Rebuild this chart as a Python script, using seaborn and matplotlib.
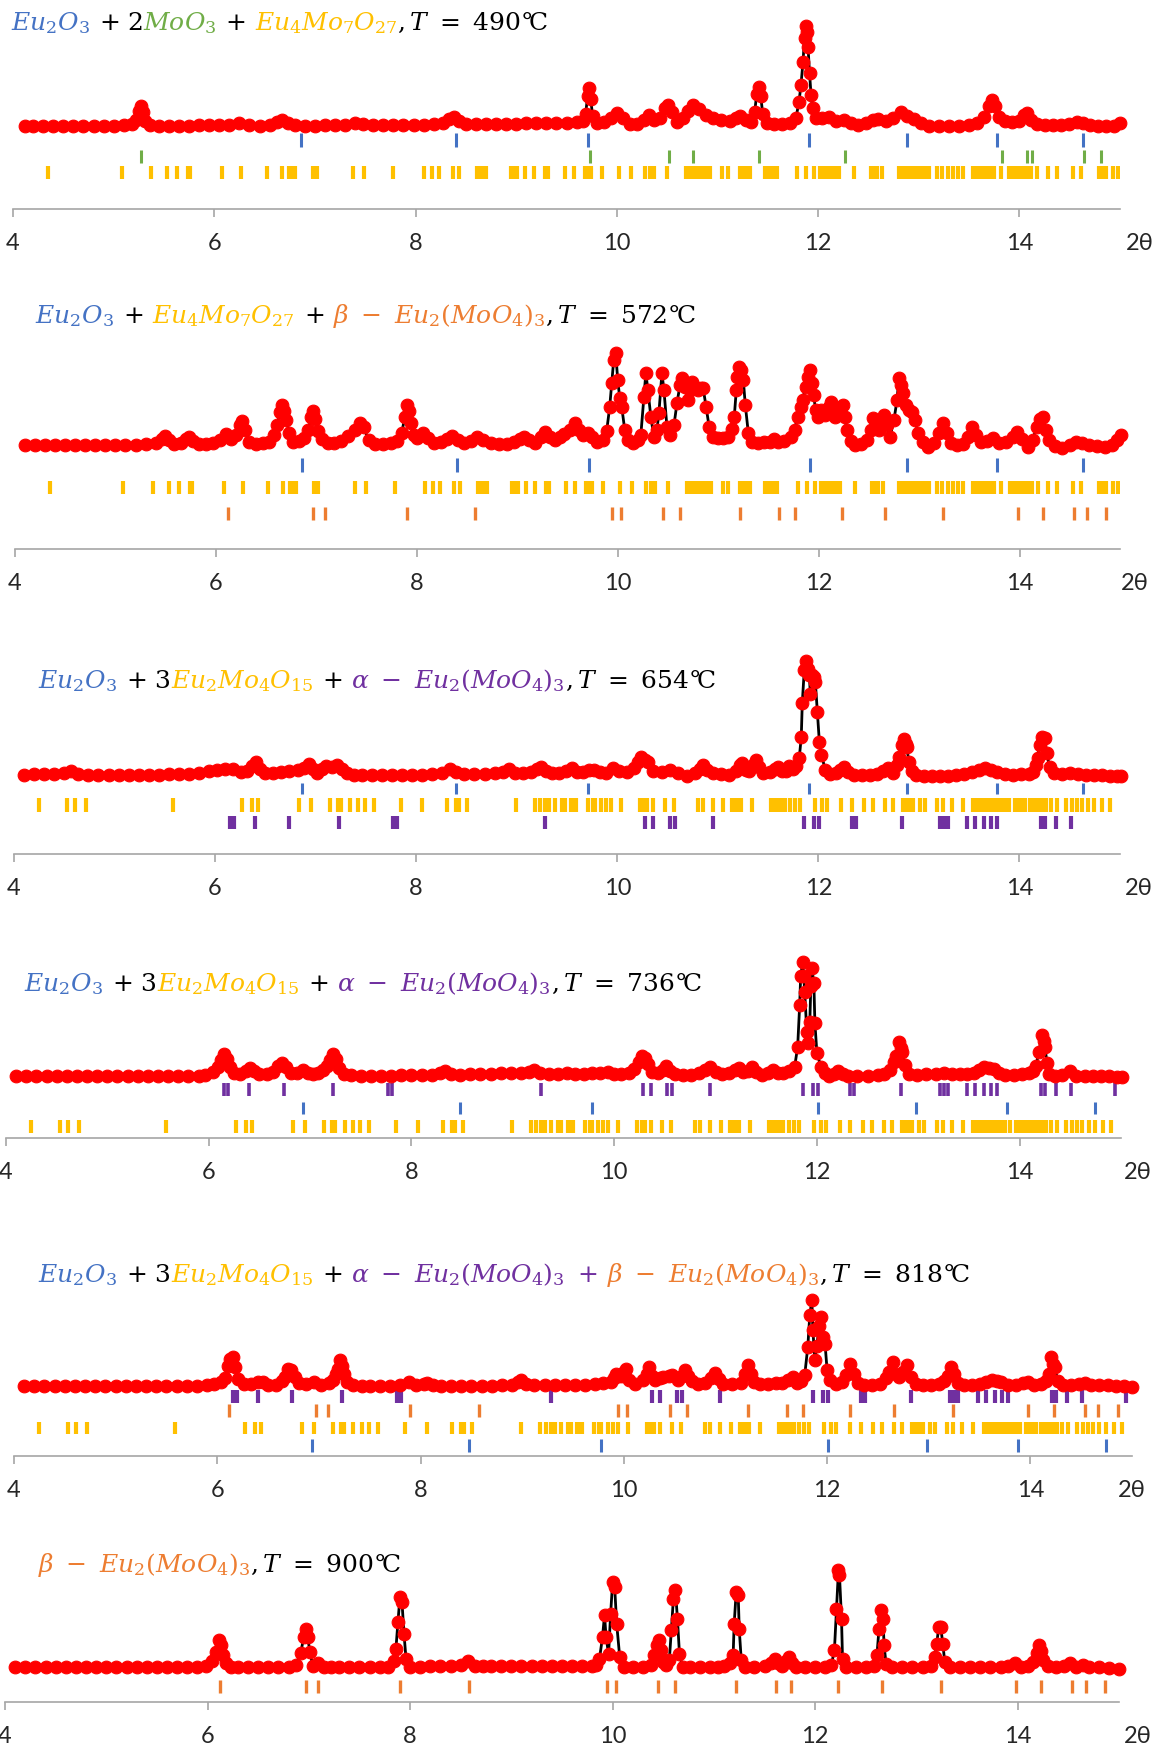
import numpy as np
import matplotlib
matplotlib.use("Agg")
import matplotlib.pyplot as plt
import seaborn as sns

# %% data: XRD scans (2theta, intensity in px above baseline)
scan_490 = [
    (4.12, 0), (4.2, 0), (4.3, 0), (4.4, 0), (4.5, 0), (4.6, 0), (4.7, 0), (4.8, 0), (4.9, 0.5), (5.0, 0.5),
    (5.1, 1), (5.18, 2), (5.22, 6), (5.25, 15), (5.27, 20), (5.29, 14), (5.31, 5), (5.36, 1), (5.45, 0),
    (5.55, 0), (5.65, 0.5), (5.75, 0.5), (5.85, 1), (5.95, 1), (6.05, 1), (6.15, 1.5), (6.25, 3), (6.35, 1),
    (6.45, 0), (6.55, 1), (6.62, 4), (6.67, 6), (6.73, 3), (6.8, 1), (6.9, 0.5), (7.0, 0.5), (7.1, 1),
    (7.2, 1), (7.3, 1.5), (7.4, 3), (7.48, 2), (7.58, 1), (7.68, 1), (7.78, 1), (7.88, 1), (7.98, 1.5),
    (8.08, 1.5), (8.18, 2), (8.27, 3), (8.33, 7), (8.38, 9), (8.43, 5), (8.5, 2), (8.6, 2), (8.7, 2),
    (8.8, 2), (8.9, 2), (9.0, 2.5), (9.1, 3), (9.2, 3), (9.3, 3), (9.4, 3.5), (9.5, 3.5), (9.6, 4),
    (9.66, 5), (9.69, 12), (9.71, 30), (9.725, 38), (9.74, 27), (9.76, 10), (9.8, 3), (9.87, 4), (9.94, 8),
    (10.0, 13), (10.06, 8), (10.13, 2), (10.2, 2), (10.27, 6), (10.32, 11), (10.37, 6), (10.43, 8),
    (10.48, 18), (10.51, 21), (10.55, 14), (10.6, 4), (10.66, 8), (10.71, 15), (10.76, 21), (10.82, 17),
    (10.89, 11), (10.96, 8), (11.04, 6), (11.12, 5), (11.18, 8), (11.22, 10), (11.28, 6), (11.33, 4),
    (11.37, 14), (11.39, 32), (11.41, 39), (11.43, 30), (11.45, 12), (11.49, 3), (11.56, 2), (11.64, 2),
    (11.72, 3), (11.78, 8), (11.81, 24), (11.83, 41), (11.85, 64), (11.865, 88), (11.88, 100), (11.89, 94),
    (11.9, 79), (11.915, 53), (11.93, 31), (11.945, 18), (11.98, 8), (12.04, 8), (12.11, 9), (12.18, 5),
    (12.26, 6), (12.33, 3), (12.4, 1), (12.48, 3), (12.55, 6), (12.6, 7), (12.67, 5), (12.74, 8),
    (12.82, 14), (12.88, 10), (12.95, 7), (13.02, 3), (13.1, 0), (13.2, 0), (13.3, 0), (13.4, 0), (13.5, 1),
    (13.58, 3), (13.65, 9), (13.7, 20), (13.73, 26), (13.76, 20), (13.8, 9), (13.86, 5), (13.93, 4),
    (14.0, 5), (14.05, 11), (14.08, 13), (14.12, 6), (14.18, 2), (14.25, 1), (14.33, 1), (14.41, 1),
    (14.49, 2), (14.57, 4), (14.63, 3), (14.7, 1), (14.78, 0), (14.86, 0), (14.94, 0.5), (15.0, 3),
]

scan_572 = [
    (4.1, 0), (4.2, 0), (4.3, 0), (4.4, 0), (4.5, 0), (4.6, 0), (4.7, 0), (4.8, 0), (4.9, 0), (5.0, 0.5),
    (5.1, 0.5), (5.2, 0.5), (5.3, 1), (5.4, 2), (5.46, 6), (5.49, 9), (5.53, 5), (5.58, 1), (5.65, 2),
    (5.7, 6), (5.73, 8), (5.77, 4), (5.83, 1), (5.9, 1), (5.97, 2), (6.04, 5), (6.1, 11), (6.15, 6),
    (6.2, 10), (6.24, 20), (6.26, 24), (6.29, 15), (6.33, 3), (6.4, 1), (6.47, 2), (6.53, 3), (6.58, 10),
    (6.61, 20), (6.64, 33), (6.66, 40), (6.68, 34), (6.7, 25), (6.73, 12), (6.77, 3), (6.83, 4), (6.88, 7),
    (6.92, 15), (6.95, 28), (6.97, 34), (6.99, 26), (7.02, 14), (7.06, 6), (7.12, 2), (7.18, 2), (7.25, 4),
    (7.31, 9), (7.38, 15), (7.43, 22), (7.47, 18), (7.52, 5), (7.58, 1), (7.66, 1), (7.74, 2), (7.8, 4),
    (7.85, 12), (7.88, 28), (7.905, 40), (7.92, 34), (7.94, 22), (7.97, 10), (8.0, 7), (8.06, 12),
    (8.11, 7), (8.17, 2), (8.24, 3), (8.3, 6), (8.35, 9), (8.41, 5), (8.47, 2), (8.54, 4), (8.6, 8),
    (8.66, 5), (8.74, 2), (8.82, 1), (8.9, 1), (8.97, 3), (9.03, 6), (9.07, 8), (9.12, 5), (9.18, 2),
    (9.24, 8), (9.28, 13), (9.33, 8), (9.38, 5), (9.43, 8), (9.47, 11), (9.52, 15), (9.57, 22), (9.61, 15),
    (9.65, 10), (9.7, 12), (9.74, 8), (9.79, 3), (9.85, 5), (9.89, 14), (9.92, 38), (9.94, 62), (9.96, 85),
    (9.98, 92), (10.0, 65), (10.02, 47), (10.04, 38), (10.07, 15), (10.1, 5), (10.15, 2), (10.2, 5),
    (10.23, 10), (10.26, 48), (10.28, 72), (10.3, 55), (10.33, 28), (10.36, 8), (10.39, 15), (10.41, 32),
    (10.44, 72), (10.46, 55), (10.49, 18), (10.52, 10), (10.56, 20), (10.59, 42), (10.62, 60), (10.64, 67),
    (10.67, 58), (10.7, 45), (10.72, 55), (10.74, 63), (10.77, 58), (10.8, 55), (10.83, 57), (10.85, 57),
    (10.88, 38), (10.91, 18), (10.95, 8), (11.0, 7), (11.05, 7), (11.1, 8), (11.14, 16), (11.16, 28),
    (11.18, 55), (11.19, 68), (11.21, 78), (11.23, 75), (11.25, 65), (11.27, 40), (11.3, 12), (11.34, 3),
    (11.4, 2), (11.46, 3), (11.52, 3), (11.56, 6), (11.6, 3), (11.66, 4), (11.72, 8), (11.76, 15),
    (11.79, 28), (11.82, 38), (11.84, 45), (11.87, 58), (11.89, 68), (11.91, 75), (11.93, 62), (11.95, 50),
    (11.97, 35), (11.99, 28), (12.02, 35), (12.06, 30), (12.1, 38), (12.12, 43), (12.14, 38), (12.16, 28),
    (12.19, 30), (12.22, 38), (12.24, 40), (12.26, 28), (12.28, 15), (12.32, 4), (12.36, 0), (12.42, 1),
    (12.48, 5), (12.52, 15), (12.54, 27), (12.57, 22), (12.6, 15), (12.63, 25), (12.65, 30), (12.68, 20),
    (12.71, 8), (12.75, 25), (12.78, 45), (12.8, 67), (12.82, 60), (12.84, 52), (12.87, 40), (12.9, 35),
    (12.93, 33), (12.96, 25), (12.99, 12), (13.04, 3), (13.09, -2), (13.15, 2), (13.2, 12), (13.24, 22),
    (13.28, 12), (13.32, 2), (13.38, 0), (13.44, 1), (13.49, 8), (13.53, 18), (13.57, 10), (13.62, 3),
    (13.68, 4), (13.74, 7), (13.8, 2), (13.87, 3), (13.93, 8), (13.97, 13), (14.02, 6), (14.08, -2),
    (14.13, 5), (14.17, 18), (14.2, 26), (14.23, 28), (14.26, 15), (14.29, 5), (14.35, -1), (14.42, -3),
    (14.5, 0), (14.56, 3), (14.62, 2), (14.69, 0), (14.77, -1), (14.85, -2), (14.92, 0), (14.97, 5),
    (15.01, 10),
]

scan_654 = [
    (4.1, 0), (4.2, 0.5), (4.3, 0.5), (4.4, 1), (4.5, 1.5), (4.57, 4), (4.64, 1), (4.74, 0), (4.84, 0),
    (4.94, 0), (5.04, 0), (5.14, 0), (5.24, 0), (5.34, 0), (5.44, 0), (5.54, 0.5), (5.64, 1), (5.74, 1),
    (5.84, 2), (5.94, 4), (6.02, 5), (6.1, 6), (6.18, 6), (6.26, 3), (6.32, 4), (6.37, 9), (6.41, 13),
    (6.45, 6), (6.5, 2), (6.58, 2), (6.66, 3), (6.74, 4), (6.82, 5), (6.88, 7), (6.93, 11), (6.97, 6),
    (7.01, 2), (7.06, 6), (7.1, 9), (7.16, 8), (7.21, 10), (7.26, 6), (7.31, 2), (7.38, 0), (7.46, 0),
    (7.56, 0), (7.66, 0), (7.76, 0), (7.86, 0), (7.96, 0), (8.06, 0), (8.16, 0.5), (8.26, 2), (8.34, 6),
    (8.4, 3), (8.48, 1), (8.58, 1), (8.68, 1), (8.78, 1.5), (8.86, 3), (8.92, 6), (8.98, 2), (9.06, 2),
    (9.14, 3), (9.2, 6), (9.24, 8), (9.29, 4), (9.35, 2), (9.42, 2), (9.49, 4), (9.55, 7), (9.6, 3),
    (9.66, 3), (9.72, 5), (9.77, 5), (9.83, 3), (9.89, 2), (9.96, 7), (10.02, 4), (10.1, 3), (10.17, 7),
    (10.21, 13), (10.24, 18), (10.28, 15), (10.31, 13), (10.36, 4), (10.44, 3), (10.52, 5), (10.6, 2),
    (10.69, -1), (10.77, 2), (10.82, 6), (10.85, 10), (10.89, 5), (10.95, 2), (11.03, 1), (11.11, 0),
    (11.18, 4), (11.22, 10), (11.24, 12), (11.28, 5), (11.31, 4), (11.35, 10), (11.38, 15), (11.41, 8),
    (11.45, 2), (11.52, 3), (11.57, 6), (11.6, 8), (11.64, 4), (11.68, 4), (11.71, 9), (11.75, 6),
    (11.78, 9), (11.81, 17), (11.83, 38), (11.84, 72), (11.86, 105), (11.88, 114), (11.9, 106), (11.91, 100),
    (11.92, 81), (11.94, 100), (11.96, 98), (11.97, 93), (11.99, 63), (12.01, 33), (12.03, 20), (12.07, 5),
    (12.12, 1), (12.18, 2), (12.22, 5), (12.25, 8), (12.29, 3), (12.35, 0), (12.43, 0), (12.51, 0),
    (12.58, 1), (12.64, 4), (12.69, 7), (12.74, 2), (12.78, 10), (12.8, 18), (12.83, 30), (12.85, 36),
    (12.87, 31), (12.88, 28), (12.9, 13), (12.93, 4), (12.97, 0), (13.05, -1), (13.13, -1), (13.21, -1),
    (13.29, -1), (13.37, 0), (13.45, 1), (13.53, 3), (13.6, 5), (13.66, 7), (13.72, 5), (13.78, 3),
    (13.86, 1), (13.94, 0), (14.02, 0.5), (14.09, 1), (14.13, 3), (14.16, 10), (14.18, 17), (14.2, 30),
    (14.22, 38), (14.25, 37), (14.27, 22), (14.3, 8), (14.34, 2), (14.42, 1), (14.5, 2), (14.58, 1),
    (14.66, 0), (14.74, 0), (14.82, 0), (14.9, -1), (14.97, -1), (15.01, -1),
]

scan_736 = [
    (4.1, 0), (4.2, 0), (4.3, 0), (4.4, 0), (4.5, 0), (4.6, 0), (4.7, 0), (4.8, 0), (4.9, 0), (5.0, 0),
    (5.1, 0), (5.2, 0), (5.3, 0), (5.4, 0), (5.5, 0), (5.6, 0.5), (5.7, 0.5), (5.8, 0.5), (5.9, 0.5),
    (5.96, 1), (6.04, 4), (6.09, 9), (6.12, 16), (6.15, 22), (6.18, 17), (6.21, 9), (6.25, 3), (6.31, 2),
    (6.37, 5), (6.41, 8), (6.45, 5), (6.5, 2), (6.57, 2), (6.63, 4), (6.68, 10), (6.72, 13), (6.76, 9),
    (6.81, 3), (6.87, 3), (6.93, 6), (6.98, 3), (7.03, 2), (7.08, 3), (7.13, 6), (7.17, 10), (7.2, 16),
    (7.23, 22), (7.26, 17), (7.29, 8), (7.33, 2), (7.4, 1), (7.5, 0), (7.6, 0), (7.7, 0), (7.8, 0.5),
    (7.9, 1), (8.0, 1), (8.1, 1), (8.2, 1.5), (8.28, 3), (8.33, 5), (8.39, 2), (8.48, 1.5), (8.58, 2),
    (8.68, 2), (8.78, 2.5), (8.88, 3), (8.98, 3), (9.08, 3.5), (9.16, 4), (9.21, 6), (9.27, 3), (9.36, 2),
    (9.45, 2.5), (9.53, 3), (9.61, 2.5), (9.7, 2), (9.78, 3), (9.86, 3), (9.94, 4), (10.0, 2), (10.07, 2),
    (10.15, 3), (10.2, 7), (10.24, 14), (10.27, 20), (10.3, 18), (10.33, 12), (10.37, 4), (10.43, 3),
    (10.48, 6), (10.51, 10), (10.55, 5), (10.6, 2), (10.68, 1), (10.76, 1), (10.84, 3), (10.9, 6),
    (10.95, 9), (11.0, 4), (11.06, 2), (11.13, 3), (11.19, 6), (11.23, 8), (11.27, 4), (11.32, 5),
    (11.36, 9), (11.4, 4), (11.46, 1), (11.52, 3), (11.57, 6), (11.62, 3), (11.67, 3), (11.72, 5),
    (11.78, 9), (11.81, 29), (11.83, 71), (11.84, 100), (11.86, 114), (11.87, 100), (11.88, 84),
    (11.9, 44), (11.91, 33), (11.93, 54), (11.94, 90), (11.95, 108), (11.97, 93), (11.98, 53), (12.0, 23),
    (12.04, 9), (12.08, 3), (12.12, 0), (12.17, 2), (12.21, 5), (12.26, 2), (12.31, 0), (12.4, 0),
    (12.5, 0.5), (12.6, 1), (12.66, 2), (12.72, 6), (12.76, 14), (12.78, 20), (12.81, 34), (12.83, 28),
    (12.84, 24), (12.87, 11), (12.91, 2), (12.99, 1), (13.08, 2), (13.17, 2), (13.25, 3), (13.33, 2),
    (13.41, 2), (13.48, 2), (13.55, 3), (13.6, 6), (13.65, 9), (13.7, 8), (13.75, 7), (13.8, 3),
    (13.86, 1), (13.94, 1), (14.02, 2), (14.09, 3), (14.13, 5), (14.16, 10), (14.19, 24), (14.22, 41),
    (14.24, 35), (14.25, 29), (14.27, 13), (14.29, 2), (14.35, 0), (14.42, 1), (14.5, 5), (14.56, 0),
    (14.64, 0), (14.72, 0), (14.8, 0), (14.88, 0), (14.96, -1), (15.01, -1),
]

scan_818 = [
    (4.1, 0), (4.2, 0), (4.3, 0), (4.4, 0), (4.5, 0), (4.6, 0), (4.7, 0), (4.8, 0), (4.9, 0), (5.0, 0),
    (5.1, 0), (5.2, 0), (5.3, 0), (5.4, 0), (5.5, 0), (5.6, 0), (5.7, 0.5), (5.8, 0.5), (5.9, 1),
    (5.97, 2), (6.04, 4), (6.08, 8), (6.11, 20), (6.13, 27), (6.15, 29), (6.17, 19), (6.2, 7), (6.26, 2),
    (6.33, 2), (6.4, 4), (6.45, 4), (6.5, 1), (6.58, 1), (6.64, 5), (6.67, 9), (6.7, 17), (6.73, 16),
    (6.76, 9), (6.8, 3), (6.87, 2), (6.95, 4), (7.02, 1), (7.1, 3), (7.14, 6), (7.17, 12), (7.19, 17),
    (7.21, 26), (7.23, 20), (7.25, 12), (7.28, 4), (7.34, 1), (7.42, 0), (7.5, 0), (7.6, 0), (7.7, 0.5),
    (7.8, 1), (7.89, 4), (7.96, 1), (8.03, 2), (8.06, 3), (8.12, 1), (8.2, 0), (8.3, 0), (8.4, 0),
    (8.5, 0), (8.6, 0), (8.7, 0.5), (8.8, 1), (8.9, 1), (8.96, 4), (8.99, 6), (9.04, 2), (9.12, 1),
    (9.22, 1), (9.32, 1), (9.42, 1), (9.52, 1.5), (9.62, 1.5), (9.72, 2), (9.8, 3), (9.87, 4), (9.9, 8),
    (9.92, 12), (9.95, 10), (9.98, 10), (10.0, 14), (10.02, 17), (10.05, 6), (10.11, 2), (10.19, 6),
    (10.23, 12), (10.25, 19), (10.28, 10), (10.31, 6), (10.36, 8), (10.39, 9), (10.44, 10), (10.47, 11),
    (10.53, 6), (10.57, 10), (10.6, 16), (10.63, 10), (10.67, 5), (10.73, 2), (10.8, 3), (10.86, 8),
    (10.9, 13), (10.94, 7), (10.98, 2), (11.06, 2), (11.15, 3), (11.19, 12), (11.22, 21), (11.25, 12),
    (11.28, 4), (11.34, 2), (11.42, 2), (11.5, 3), (11.56, 3), (11.62, 6), (11.66, 9), (11.7, 3),
    (11.74, 5), (11.78, 11), (11.81, 39), (11.83, 71), (11.85, 86), (11.86, 56), (11.88, 26), (11.9, 40),
    (11.92, 60), (11.94, 69), (11.96, 49), (11.98, 42), (12.0, 16), (12.03, 6), (12.09, 2), (12.15, 4),
    (12.19, 11), (12.23, 22), (12.26, 12), (12.3, 3), (12.36, 1), (12.44, 1), (12.52, 2), (12.58, 8),
    (12.61, 14), (12.65, 24), (12.68, 12), (12.71, 9), (12.75, 14), (12.79, 21), (12.83, 9), (12.87, 2),
    (12.94, 1), (13.02, 1), (13.1, 2), (13.15, 5), (13.19, 10), (13.22, 19), (13.25, 12), (13.29, 3),
    (13.35, 1), (13.43, 1), (13.5, 2), (13.56, 4), (13.62, 6), (13.67, 5), (13.71, 4), (13.78, 1),
    (13.86, 1), (13.93, 3), (13.98, 4), (14.04, 1), (14.1, 2), (14.15, 5), (14.18, 12), (14.2, 29),
    (14.22, 22), (14.24, 19), (14.27, 5), (14.32, 1), (14.4, 1), (14.48, 2), (14.54, 3), (14.6, 1),
    (14.68, 1), (14.76, 1), (14.84, 0), (14.92, 0), (15.0, -1),
]

scan_900 = [
    (4.1, 0), (4.2, 0), (4.3, 0), (4.4, 0), (4.5, 0), (4.6, 0), (4.7, 0), (4.8, 0), (4.9, 0), (5.0, 0),
    (5.1, 0), (5.2, 0), (5.3, 0), (5.4, 0), (5.5, 0), (5.6, 0), (5.7, 0), (5.8, 0), (5.9, 0.5), (5.98, 1),
    (6.04, 6), (6.08, 15), (6.11, 27), (6.13, 22), (6.15, 12), (6.18, 4), (6.23, 0), (6.3, 0), (6.4, 0),
    (6.5, 0), (6.6, 0), (6.7, 0), (6.8, 0.5), (6.87, 2), (6.92, 14), (6.95, 30), (6.97, 38), (6.99, 30),
    (7.01, 15), (7.04, 1), (7.09, 4), (7.15, 0), (7.22, 0), (7.3, 0), (7.4, 0), (7.5, 0), (7.6, 0.5),
    (7.7, 0.5), (7.78, 0.5), (7.84, 6), (7.86, 18), (7.88, 45), (7.9, 70), (7.92, 65), (7.94, 33),
    (7.96, 8), (8.0, 0), (8.1, 0.5), (8.2, 1), (8.3, 1), (8.4, 1), (8.5, 2), (8.57, 6), (8.64, 1),
    (8.72, 1), (8.8, 1), (8.9, 1), (9.0, 1), (9.1, 1), (9.2, 1), (9.3, 1), (9.4, 1), (9.5, 1), (9.6, 1),
    (9.7, 1), (9.8, 1), (9.84, 2), (9.87, 8), (9.9, 30), (9.92, 52), (9.935, 30), (9.96, 13), (9.98, 53),
    (10.0, 85), (10.02, 80), (10.04, 43), (10.07, 10), (10.11, 0), (10.2, 0), (10.3, 0), (10.38, 2),
    (10.41, 12), (10.44, 22), (10.46, 27), (10.48, 17), (10.5, 5), (10.53, 2), (10.56, 7), (10.58, 37),
    (10.6, 68), (10.62, 77), (10.64, 48), (10.66, 13), (10.69, 0), (10.76, 0), (10.86, 0), (10.96, 0),
    (11.04, 0.5), (11.1, 1), (11.16, 4), (11.19, 12), (11.2, 43), (11.22, 75), (11.24, 72), (11.25, 38),
    (11.27, 7), (11.31, 0), (11.4, 0), (11.5, 1), (11.56, 4), (11.6, 8), (11.63, 4), (11.67, 1),
    (11.71, 6), (11.74, 10), (11.77, 4), (11.81, 0), (11.9, 0), (12.0, 0), (12.1, 0), (12.16, 2),
    (12.19, 17), (12.21, 58), (12.23, 97), (12.24, 92), (12.26, 48), (12.27, 8), (12.3, 0), (12.4, 0),
    (12.5, 0), (12.58, 1), (12.61, 12), (12.63, 38), (12.65, 57), (12.67, 48), (12.68, 22), (12.7, 3),
    (12.76, 0), (12.86, 0), (12.96, 0), (13.06, 0), (13.14, 1), (13.18, 10), (13.2, 23), (13.22, 40),
    (13.24, 40), (13.26, 23), (13.28, 5), (13.33, 0), (13.43, 0), (13.53, 0), (13.63, 0), (13.73, 0),
    (13.83, 0.5), (13.9, 1), (13.97, 4), (14.03, 0), (14.1, 1), (14.15, 5), (14.19, 14), (14.21, 22),
    (14.23, 16), (14.25, 7), (14.3, 1), (14.38, 0), (14.46, 1), (14.52, 4), (14.58, 0), (14.64, 2),
    (14.7, 0), (14.8, 0), (14.9, -1), (15.0, -2),
]

# %% data: reference reflection positions (2theta)
eu2o3_low = [6.86, 8.40, 9.71, 11.91, 12.88, 13.78, 14.63]
eu2o3_high = [6.93, 8.48, 9.78, 12.01, 12.98, 13.88, 14.74]
moo3 = [5.27, 9.73, 10.52, 10.76, 11.41, 12.27, 13.83, 14.08, 14.13, 14.64, 14.81]
eu4mo7o27 = [4.35, 5.08, 5.37, 5.53, 5.63, 5.74, 5.76, 6.08, 6.27, 6.52, 6.67, 6.74, 6.77, 6.80, 6.98,
             7.02, 7.38, 7.49, 7.78, 8.08, 8.16, 8.23, 8.37, 8.43, 8.61, 8.63, 8.66, 8.70, 8.95, 8.98,
             9.01, 9.09, 9.18, 9.29, 9.32, 9.49, 9.57, 9.68, 9.71, 9.74, 9.85, 10.02, 10.14, 10.28,
             10.33, 10.37, 10.50, 10.69, 10.72, 10.76, 10.79, 10.82, 10.86, 10.89, 10.93, 11.05, 11.10,
             11.22, 11.25, 11.28, 11.32, 11.47, 11.50, 11.53, 11.56, 11.59, 11.79, 11.88, 11.96, 12.02,
             12.05, 12.08, 12.11, 12.14, 12.18, 12.21, 12.36, 12.53, 12.56, 12.59, 12.64, 12.80, 12.83,
             12.86, 12.89, 12.92, 12.95, 12.98, 13.02, 13.06, 13.10, 13.18, 13.23, 13.29, 13.34, 13.39,
             13.44, 13.54, 13.57, 13.60, 13.63, 13.66, 13.69, 13.72, 13.75, 13.82, 13.90, 13.93, 13.96,
             13.99, 14.02, 14.05, 14.08, 14.12, 14.18, 14.28, 14.37, 14.53, 14.61, 14.79, 14.82, 14.86,
             14.93, 14.98]
eu2mo4o15 = [4.25, 4.53, 4.61, 4.72, 5.58, 6.27, 6.37, 6.43, 6.83, 6.95, 7.14, 7.22, 7.25, 7.34, 7.42,
             7.49, 7.58, 7.85, 8.06, 8.31, 8.40, 8.43, 8.51, 8.99, 9.18, 9.23, 9.28, 9.32, 9.38, 9.45,
             9.48, 9.54, 9.57, 9.59, 9.71, 9.76, 9.78, 9.84, 9.89, 9.94, 10.04, 10.23, 10.27, 10.30,
             10.36, 10.47, 10.56, 10.80, 10.85, 10.95, 11.05, 11.14, 11.17, 11.19, 11.23, 11.34, 11.53,
             11.56, 11.59, 11.62, 11.65, 11.67, 11.72, 11.77, 11.82, 11.97, 12.04, 12.09, 12.23, 12.33,
             12.45, 12.54, 12.66, 12.74, 12.84, 12.87, 12.90, 12.94, 13.01, 13.06, 13.18, 13.24, 13.33,
             13.44, 13.54, 13.56, 13.58, 13.60, 13.62, 13.64, 13.66, 13.68, 13.70, 13.72, 13.74, 13.78,
             13.82, 13.86, 13.90, 13.96, 14.00, 14.03, 14.06, 14.10, 14.13, 14.15, 14.17, 14.19, 14.22,
             14.24, 14.26, 14.31, 14.37, 14.46, 14.52, 14.57, 14.62, 14.68, 14.74, 14.82, 14.90]
alpha_eu2moo43 = [6.15, 6.19, 6.40, 6.74, 7.23, 7.77, 7.81, 9.28, 10.28, 10.36, 10.52, 10.57, 10.95, 11.86,
                  11.96, 12.01, 12.33, 12.37, 12.83, 13.21, 13.25, 13.29, 13.48, 13.56, 13.65, 13.72,
                  13.78, 14.21, 14.25, 14.36, 14.51, 14.94]
beta_eu2moo43 = [6.12, 6.97, 7.09, 7.90, 8.58, 9.94, 10.03, 10.45, 10.62, 11.22, 11.61, 11.76, 12.23,
                 12.66, 13.24, 13.98, 14.23, 14.54, 14.67, 14.86]

BLUE, GREEN, GOLD, ORANGE, PURPLE = "#4472C4", "#70AD47", "#FFC000", "#ED7D31", "#7030A0"
K = "black"

# title pieces: (mathtext, colour, gap in px before the piece)
G = 9
titles = [
    [(r"$Eu_2O_3$", BLUE, 0), (r"$+\ 2$", K, G), (r"$MoO_3$", GREEN, 0), (r"$+$", K, G),
     (r"$Eu_4Mo_7O_{27}$", GOLD, G), (r"$,T\ =\ 490\degree\!\mathrm{C}$", K, 0)],
    [(r"$Eu_2O_3$", BLUE, 0), (r"$+$", K, G), (r"$Eu_4Mo_7O_{27}$", GOLD, G), (r"$+$", K, G),
     (r"$\beta\ -\ Eu_2(MoO_4)_3$", ORANGE, G), (r"$,T\ =\ 572\degree\!\mathrm{C}$", K, 0)],
    [(r"$Eu_2O_3$", BLUE, 0), (r"$+\ 3$", K, G), (r"$Eu_2Mo_4O_{15}$", GOLD, 0), (r"$+$", K, G),
     (r"$\alpha\ -\ Eu_2(MoO_4)_3$", PURPLE, G), (r"$,T\ =\ 654\degree\!\mathrm{C}$", K, 0)],
    [(r"$Eu_2O_3$", BLUE, 0), (r"$+\ 3$", K, G), (r"$Eu_2Mo_4O_{15}$", GOLD, 0), (r"$+$", K, G),
     (r"$\alpha\ -\ Eu_2(MoO_4)_3$", PURPLE, G), (r"$,T\ =\ 736\degree\!\mathrm{C}$", K, 0)],
    [(r"$Eu_2O_3$", BLUE, 0), (r"$+\ 3$", K, G), (r"$Eu_2Mo_4O_{15}$", GOLD, 0), (r"$+$", K, G),
     (r"$\alpha\ -\ Eu_2(MoO_4)_3\ +$", PURPLE, G), (r"$\beta\ -\ Eu_2(MoO_4)_3$", ORANGE, G),
     (r"$,T\ =\ 818\degree\!\mathrm{C}$", K, 0)],
    [(r"$\beta\ -\ Eu_2(MoO_4)_3$", ORANGE, 0), (r"$,T\ =\ 900\degree\!\mathrm{C}$", K, 0)],
]

# layout in pixels: x of 4 and 15, baseline, axis line, title anchor, 2theta label x
panels = [
    dict(scan=scan_490, x4=13, x15=1120, base=126, axis=209, tx=11, ty=30, lab=15.2,
         refs=[(eu2o3_low, BLUE, -7, -21, 2.2), (moo3, GREEN, -24, -37, 2.2), (eu4mo7o27, GOLD, -40, -53, 3.0)]),
    dict(scan=scan_572, x4=15, x15=1120, base=445, axis=549, tx=35, ty=323, lab=15.15,
         refs=[(eu2o3_low, BLUE, -13, -27, 2.2), (eu4mo7o27, GOLD, -36, -49, 3.0),
               (beta_eu2moo43, ORANGE, -62, -75, 2.4)]),
    dict(scan=scan_654, x4=14, x15=1120, base=775, axis=854, tx=38, ty=688, lab=15.19,
         refs=[(eu2o3_low, BLUE, -8, -19, 2.2), (eu2mo4o15, GOLD, -23, -37, 3.0),
               (alpha_eu2moo43[:-1], PURPLE, -41, -54, 3.0)]),
    dict(scan=scan_736, x4=6, x15=1121, base=1076, axis=1138, tx=24, ty=991, lab=15.17,
         refs=[(alpha_eu2moo43, PURPLE, -7, -20, 2.6), (eu2o3_high, BLUE, -26, -38, 2.2),
               (eu2mo4o15, GOLD, -44, -57, 3.0)]),
    dict(scan=scan_818, x4=14, x15=1132, base=1386, axis=1456, tx=38, ty=1282, lab=15.0,
         refs=[(alpha_eu2moo43, PURPLE, -4, -17, 3.0), (beta_eu2moo43, ORANGE, -18, -31, 2.4),
               (eu2mo4o15, GOLD, -36, -48, 3.0), (eu2o3_high, BLUE, -53, -66, 2.2)]),
    dict(scan=scan_900, x4=5, x15=1119, base=1667, axis=1702, tx=38, ty=1572, lab=15.19,
         refs=[(beta_eu2moo43, ORANGE, -13, -26, 2.4)]),
]

sns.set_theme(style="white")
plt.rcParams["font.family"] = ["Lato", "DejaVu Sans"]
plt.rcParams["mathtext.fontset"] = "dejavuserif"

W, H = 1152, 1748
fig = plt.figure(figsize=(W / 100, H / 100), dpi=100)
renderer = fig.canvas.get_renderer()

AXC = "#A6A6A6"
for p, parts in zip(panels, titles):
    top = p["base"] - 135
    ax = fig.add_axes([p["x4"] / W, 1 - p["axis"] / H, (p["x15"] - p["x4"]) / W, (p["axis"] - top) / H])
    ax.set_xlim(4, 15)
    ax.set_ylim(-(p["axis"] - p["base"]), p["base"] - top)
    ax.patch.set_alpha(0)

    for pos, col, y0, y1, lw in p["refs"]:
        ax.vlines(pos, y1, y0, colors=col, lw=lw)

    tt, inten = np.array(p["scan"]).T
    sns.lineplot(x=tt, y=inten, ax=ax, sort=False, estimator=None, color="black", lw=2,
                 marker="o", markersize=9.2, markerfacecolor="red", markeredgecolor="red", clip_on=False)

    for s in ["top", "left", "right"]:
        ax.spines[s].set_visible(False)
    ax.spines["bottom"].set_color(AXC)
    ax.spines["bottom"].set_linewidth(1.2)
    ax.set_yticks([])
    ax.set_xticks([4, 6, 8, 10, 12, 14])
    ax.tick_params(axis="x", direction="out", length=6, width=1.2, color=AXC, labelsize=17,
                   labelcolor="#262626", pad=11, bottom=True)
    ax.annotate("2θ", xy=(p["lab"], 0), xycoords=("data", "axes fraction"), xytext=(0, -17),
                textcoords="offset points", ha="center", va="top", fontsize=17, color="#262626",
                annotation_clip=False)

    # multicoloured formula: chain pieces along one baseline
    x = p["tx"]
    for s, c, gap in parts:
        t = fig.text((x + gap) / W, 1 - p["ty"] / H, s, color=c, fontsize=18, ha="left", va="baseline")
        x = t.get_window_extent(renderer=renderer).x1

fig.savefig("out.png", dpi=100)
